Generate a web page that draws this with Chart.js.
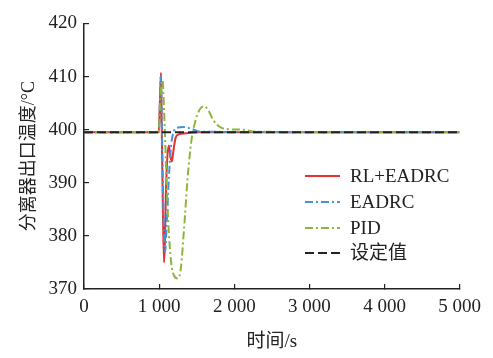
<!DOCTYPE html>
<html>
<head>
<meta charset="utf-8">
<script src="https://cdn.jsdelivr.net/npm/chart.js@4.4.1/dist/chart.umd.min.js"></script>
<style>
  html, body { margin: 0; padding: 0; background: #fff; }
  #wrap { width: 493px; height: 358px; position: relative; }
</style>
</head>
<body>
<div id="wrap"><canvas id="chart"></canvas></div>
<script>
const seriesNames = ["RL+EADRC", "EADRC", "PID", "设定值"];

const rlTime = [0, 995, 1010, 1025, 1035, 1050, 1065, 1075, 1090, 1110, 1130, 1150, 1170, 1190, 1220, 1260, 1350, 1500, 5000];
const rlTemp = [399.5, 399.5, 405, 410.7, 400, 385, 375, 378, 388, 395, 397, 395, 394, 396, 398.5, 399.1, 399.3, 399.5, 399.5];

const eadrcTime = [0, 995, 1010, 1022, 1040, 1060, 1080, 1100, 1130, 1160, 1200, 1250, 1320, 1420, 1550, 5000];
const eadrcTemp = [399.5, 399.5, 405, 410, 398, 383, 377, 382, 391, 397, 399.8, 400.4, 400.5, 400.2, 399.6, 399.5];

const pidTime = [0, 995, 1010, 1030, 1045, 1065, 1090, 1120, 1160, 1200, 1250, 1290, 1330, 1380, 1430, 1480, 1540, 1600, 1660, 1720, 1800, 1900, 2100, 2300, 5000];
const pidTemp = [399.5, 399.5, 404, 408.5, 409.3, 404, 394, 383, 375, 372.5, 372, 374, 381, 391, 398, 401.5, 403.8, 404.4, 403.5, 401.8, 400.6, 400.1, 400, 399.6, 399.5];

const setTime = [0, 5000];
const setTemp = [399.5, 399.5];

const xTicks = [0, 1000, 2000, 3000, 4000, 5000];
const yTicks = [370, 380, 390, 400, 410, 420];

const toPoints = (t, v) => t.map((x, i) => ({ x: x, y: v[i] }));

const serif = "'Liberation Serif', 'Noto Sans CJK SC', serif";

const insideLegend = {
  id: "insideLegend",
  afterDraw: (chart) => {
    const ctx = chart.ctx;
    const x0 = 305, x1 = 340, tx = 350;
    const ys = [176, 202, 228, 253];
    ctx.save();
    chart.data.datasets.forEach((ds, i) => {
      ctx.beginPath();
      ctx.strokeStyle = ds.borderColor;
      ctx.lineWidth = ds.borderWidth;
      ctx.setLineDash(ds.borderDash || []);
      ctx.moveTo(x0, ys[i]);
      ctx.lineTo(x1, ys[i]);
      ctx.stroke();
      ctx.setLineDash([]);
      ctx.fillStyle = "#222";
      ctx.font = "19px " + serif;
      ctx.textBaseline = "middle";
      ctx.fillText(seriesNames[i], tx, ys[i] + 1);
    });
    ctx.restore();
  },
};

new Chart(document.getElementById("chart").getContext("2d"), {
  type: "line",
  data: {
    datasets: [
      {
        label: seriesNames[0],
        data: toPoints(rlTime, rlTemp),
        borderColor: "#e8302c",
        borderWidth: 2,
        order: 3,
      },
      {
        label: seriesNames[1],
        data: toPoints(eadrcTime, eadrcTemp),
        borderColor: "#4b8fd8",
        borderWidth: 2,
        borderDash: [8, 3, 2, 3],
        order: 2,
      },
      {
        label: seriesNames[2],
        data: toPoints(pidTime, pidTemp),
        borderColor: "#8db43c",
        borderWidth: 2,
        borderDash: [8, 3, 2, 3],
        order: 1,
      },
      {
        label: seriesNames[3],
        data: toPoints(setTime, setTemp),
        borderColor: "#222222",
        borderWidth: 2,
        borderDash: [9, 4],
        order: 0,
      },
    ],
  },
  options: {
    responsive: true,
    maintainAspectRatio: false,
    animation: false,
    layout: { padding: { left: 0, top: 19, right: 30, bottom: 0 } },
    elements: {
      point: { radius: 0 },
      line: { cubicInterpolationMode: "monotone", fill: false },
    },
    scales: {
      x: {
        type: "linear",
        min: 0,
        max: 5000,
        afterBuildTicks: (scale) => {
          scale.ticks = xTicks.map((v) => ({ value: v }));
        },
        afterFit: (scale) => {
          scale.height = 69;
        },
        border: { color: "#222", width: 1.5 },
        grid: { drawOnChartArea: false, tickLength: -5, color: "#222", lineWidth: 1.2 },
        ticks: {
          color: "#222",
          padding: 12,
          maxRotation: 0,
          font: { family: serif, size: 19 },
          callback: (v) => (v >= 1000 ? Math.floor(v / 1000) + " " + String(v % 1000).padStart(3, "0") : String(v)),
        },
        title: {
          display: true,
          text: "时间/s",
          color: "#222",
          font: { family: serif, size: 19 },
          padding: { top: 0, bottom: 5 },
        },
      },
      y: {
        min: 370,
        max: 420,
        afterBuildTicks: (scale) => {
          scale.ticks = yTicks.map((v) => ({ value: v }));
        },
        afterFit: (scale) => {
          scale.width = 84;
        },
        border: { color: "#222", width: 1.5 },
        grid: { drawOnChartArea: false, tickLength: -5, color: "#222", lineWidth: 1.2 },
        ticks: {
          color: "#222",
          padding: 12,
          font: { family: serif, size: 19 },
        },
        title: {
          display: true,
          text: "分离器出口温度/°C",
          color: "#222",
          font: { family: serif, size: 18 },
          padding: { top: 18, bottom: 0 },
        },
      },
    },
    plugins: {
      legend: { display: false },
      tooltip: { enabled: false },
    },
  },
  plugins: [insideLegend],
});
</script>
</body>
</html>
